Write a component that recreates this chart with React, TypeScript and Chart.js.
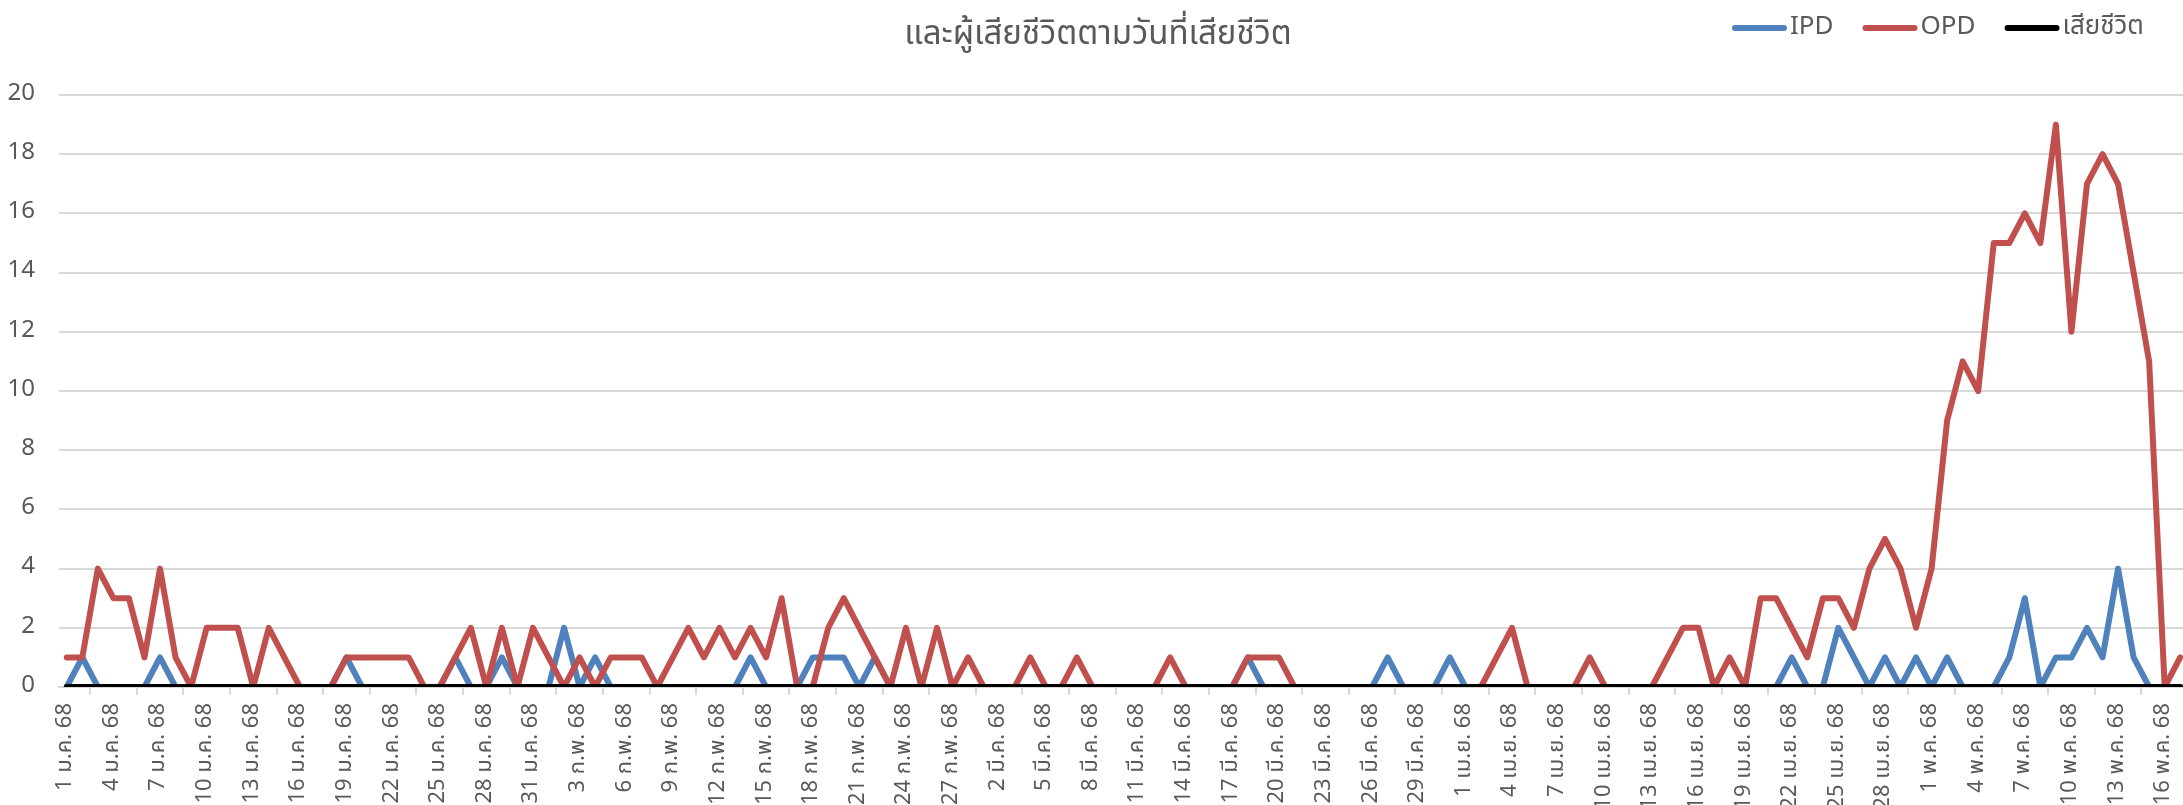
import React, { useEffect, useRef } from 'react';
import { Chart, registerables } from 'chart.js';

Chart.register(...registerables);

// ---------- data ----------
const MONTHS = ['ม.ค.', 'ก.พ.', 'มี.ค.', 'เม.ย.', 'พ.ค.'];
const DAYS_IN_VIEW = [31, 28, 31, 30, 17];
const YEAR = '68';
const LABEL_STEP = 3;

const CATEGORIES: string[] = MONTHS.flatMap((m, mi) =>
  Array.from({ length: DAYS_IN_VIEW[mi] }, (_, d) => `${d + 1} ${m} ${YEAR}`)
);

const TITLE_LINE = 'และผู้เสียชีวิตตามวันที่เสียชีวิต';

const IPD = [
  0, 1, 0, 0, 0, 0, 1, 0, 0, 0,
  0, 0, 0, 0, 0, 0, 0, 0, 1, 0,
  0, 0, 0, 0, 0, 1, 0, 0, 1, 0,
  0, 0, 2, 0, 1, 0, 0, 0, 0, 0,
  0, 0, 0, 0, 1, 0, 0, 0, 1, 1,
  1, 0, 1, 0, 0, 0, 0, 0, 0, 0,
  0, 0, 0, 0, 0, 0, 0, 0, 0, 0,
  0, 0, 0, 0, 0, 0, 1, 0, 0, 0,
  0, 0, 0, 0, 0, 1, 0, 0, 0, 1,
  0, 0, 0, 0, 0, 0, 0, 0, 0, 0,
  0, 0, 0, 0, 0, 0, 0, 0, 0, 0,
  0, 1, 0, 0, 2, 1, 0, 1, 0, 1,
  0, 1, 0, 0, 0, 1, 3, 0, 1, 1,
  2, 1, 4, 1, 0, 0, 0,
];

const OPD = [
  1, 1, 4, 3, 3, 1, 4, 1, 0, 2,
  2, 2, 0, 2, 1, 0, 0, 0, 1, 1,
  1, 1, 1, 0, 0, 1, 2, 0, 2, 0,
  2, 1, 0, 1, 0, 1, 1, 1, 0, 1,
  2, 1, 2, 1, 2, 1, 3, 0, 0, 2,
  3, 2, 1, 0, 2, 0, 2, 0, 1, 0,
  0, 0, 1, 0, 0, 1, 0, 0, 0, 0,
  0, 1, 0, 0, 0, 0, 1, 1, 1, 0,
  0, 0, 0, 0, 0, 0, 0, 0, 0, 0,
  0, 0, 1, 2, 0, 0, 0, 0, 1, 0,
  0, 0, 0, 1, 2, 2, 0, 1, 0, 3,
  3, 2, 1, 3, 3, 2, 4, 5, 4, 2,
  4, 9, 11, 10, 15, 15, 16, 15, 19, 12,
  17, 18, 17, 14, 11, 0, 1,
];

const DEATHS = [
  0, 0, 0, 0, 0, 0, 0, 0, 0, 0,
  0, 0, 0, 0, 0, 0, 0, 0, 0, 0,
  0, 0, 0, 0, 0, 0, 0, 0, 0, 0,
  0, 0, 0, 0, 0, 0, 0, 0, 0, 0,
  0, 0, 0, 0, 0, 0, 0, 0, 0, 0,
  0, 0, 0, 0, 0, 0, 0, 0, 0, 0,
  0, 0, 0, 0, 0, 0, 0, 0, 0, 0,
  0, 0, 0, 0, 0, 0, 0, 0, 0, 0,
  0, 0, 0, 0, 0, 0, 0, 0, 0, 0,
  0, 0, 0, 0, 0, 0, 0, 0, 0, 0,
  0, 0, 0, 0, 0, 0, 0, 0, 0, 0,
  0, 0, 0, 0, 0, 0, 0, 0, 0, 0,
  0, 0, 0, 0, 0, 0, 0, 0, 0, 0,
  0, 0, 0, 0, 0, 0, 0,
];

const SERIES_NAMES = ['IPD', 'OPD', 'เสียชีวิต'];
const SERIES_COLORS = ['#4F81BD', '#C0504D', '#000000'];

// ---------- style ----------
const FONT = "'Noto Sans Thai', 'Leelawadee UI', 'Noto Sans', sans-serif";
const TEXT = '#595959';
const GRID = '#D9D9D9';

const headerPlugin = {
  id: 'header',
  afterDraw(chart: any) {
    const ctx = chart.ctx as CanvasRenderingContext2D;
    ctx.save();
    ctx.fillStyle = TEXT;
    ctx.font = `33px ${FONT}`;
    ctx.textAlign = 'center';
    ctx.textBaseline = 'middle';
    ctx.fillText(TITLE_LINE, 1098, 37);

    // legend
    let x = 1732;
    const y = 28;
    ctx.font = `26px ${FONT}`;
    ctx.textAlign = 'left';
    chart.data.datasets.forEach((ds: any) => {
      ctx.strokeStyle = ds.borderColor;
      ctx.lineWidth = 6;
      ctx.lineCap = 'round';
      ctx.beginPath();
      ctx.moveTo(x + 3, y);
      ctx.lineTo(x + 52, y);
      ctx.stroke();
      x += 58;
      ctx.fillStyle = TEXT;
      ctx.fillText(ds.label, x, y + 1);
      x += ctx.measureText(ds.label).width + 29;
    });
    ctx.restore();
  },
};

export default function App() {
  const ref = useRef<HTMLCanvasElement | null>(null);

  useEffect(() => {
    if (!ref.current) return;
    const seriesData = [IPD, OPD, DEATHS];
    const chart = new Chart(ref.current, {
      type: 'line',
      data: {
        labels: CATEGORIES,
        datasets: seriesData.map((d, i) => ({
          label: SERIES_NAMES[i],
          data: d,
          borderColor: SERIES_COLORS[i],
          backgroundColor: SERIES_COLORS[i],
          borderWidth: 6,
          pointRadius: 0,
          tension: 0,
          fill: false,
          borderJoinStyle: 'round',
          borderCapStyle: 'round',
          order: 3 - i,
        })),
      },
      options: {
        responsive: false,
        animation: false,
        devicePixelRatio: 1,
        layout: { padding: { left: 8, top: 95, right: 20, bottom: 0 } },
        plugins: {
          legend: { display: false },
          title: { display: false },
          tooltip: { enabled: false },
        },
        scales: {
          x: {
            offset: true,
            grid: {
              offset: true,
              drawOnChartArea: false,
              drawTicks: true,
              tickLength: 8,
              color: GRID,
              lineWidth: 2,
            },
            border: { display: true, color: GRID, width: 2 },
            ticks: {
              autoSkip: false,
              maxRotation: 90,
              minRotation: 90,
              padding: 8,
              color: TEXT,
              font: { family: FONT, size: 22 },
              callback: (_v: any, i: number) => (i % LABEL_STEP === 0 ? CATEGORIES[i] : null),
            },
            afterFit: (s: any) => {
              s.height = 213;
            },
          },
          y: {
            min: 0,
            max: 20,
            ticks: {
              stepSize: 2,
              padding: 24,
              color: TEXT,
              font: { family: FONT, size: 24 },
            },
            grid: { color: GRID, lineWidth: 2, drawTicks: false },
            border: { display: false },
            afterFit: (s: any) => {
              s.width = 51;
            },
          },
        },
      },
      plugins: [headerPlugin],
    } as any);
    return () => chart.destroy();
  }, []);

  return (
    <div
      style={{
        position: 'fixed',
        left: 0,
        top: 0,
        width: '2183px',
        height: '805px',
        overflow: 'hidden',
        background: '#ffffff',
      }}
    >
      <canvas
        ref={ref}
        width={2208}
        height={900}
        style={{ display: 'block', width: '2208px', height: '900px' }}
      />
    </div>
  );
}
